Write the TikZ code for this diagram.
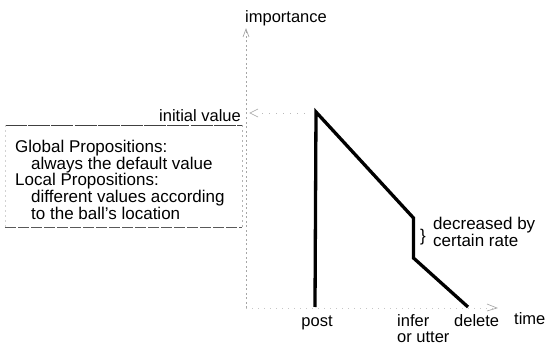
\documentclass[tikz,border=0pt]{standalone}
\usepackage{fontspec}
\setmainfont{Liberation Sans}
\usetikzlibrary{arrows.meta}
\begin{document}
\begin{tikzpicture}[x=1pt,y=-1pt,
  axis/.style={gray!70, line width=0.6pt, dash pattern=on 2pt off 2.5pt},
  faintaxis/.style={gray!45, line width=0.5pt, dash pattern=on 1pt off 5pt},
  tip/.style={gray!75, line width=0.6pt},
  curve/.style={line width=3.3pt, line join=miter, line cap=butt},
  lbl/.style={font=\fontsize{16.5}{17}\selectfont, inner sep=0pt},
  boxtxt/.style={font=\fontsize{17}{16.7}\selectfont, inner sep=0pt, align=left},
  frametop/.style={black!75, line width=0.7pt, dash pattern=on 22pt off 1.2pt},
  framebot/.style={black!65, line width=0.7pt, dash pattern=on 11pt off 2pt},
  frameside/.style={gray!60, line width=0.5pt, dash pattern=on 2pt off 3pt}
]
\useasboundingbox (0,0) rectangle (547,345);

% axes
\coordinate (O) at (246,308);
\coordinate (ytop) at (246,29);
\coordinate (xend) at (497,308);
\draw[axis] (O) -- (ytop);
\draw[faintaxis] (O) -- (xend);
\draw[tip] (243,37) -- (ytop) -- (249,37);
\draw[tip] (487,304) -- (xend) -- (487,311);

% initial value marker and guide
\coordinate (iv) at (250,113);
\draw[tip] (258,109) -- (iv) -- (258,117);
\coordinate (ivend) at (310,113);
\draw[gray!55, line width=0.5pt, dash pattern=on 1pt off 6pt] (262,113) -- (ivend);

% importance curve
\coordinate (post) at (315,307);
\coordinate (peak) at (316,112);
\coordinate (drop1) at (413.5,218);
\coordinate (drop2) at (413.5,258);
\coordinate (del) at (468,307);
\draw[curve] (post) -- (peak) -- (drop1) -- (drop2) -- (del);

% legend frame
\coordinate (fa) at (5,125);
\coordinate (fb) at (242,125);
\coordinate (fc) at (242,227);
\coordinate (fd) at (5,227);
\draw[frametop] (fa) -- (fb);
\draw[framebot] (fd) -- (fc);
\draw[frameside] (fb) -- (fc);
\draw[frameside, gray!35] (fa) -- (fd);

% labels
\node[lbl, anchor=base west] (imp) at (245,23) {importance};
\node[lbl, anchor=base east] (init) at (241,122) {initial value};
\node[boxtxt, anchor=north west] (props) at (15,140)
  {Global Propositions:\\\hspace*{16pt}always the default value\\Local Propositions:\\\hspace*{16pt}different values according\\\hspace*{16pt}to the ball's location};
\node[lbl, anchor=base] (postlbl) at (317,326) {post};
\node[lbl, anchor=base west] (infer) at (397,326) {infer};
\node[lbl, anchor=base west] (utter) at (397,342) {or utter};
\node[lbl, anchor=base west] (delete) at (454,326) {delete};
\node[lbl, anchor=base west] (time) at (514,324) {time};
\node[lbl, font=\fontsize{17}{17}\selectfont] (brace) at (423,237) {\}};
\node[lbl, font=\fontsize{17}{17}\selectfont, anchor=base west] (dec1) at (433,229) {decreased by};
\node[lbl, font=\fontsize{17}{17}\selectfont, anchor=base west] (dec2) at (433,246) {certain rate};
\end{tikzpicture}
\end{document}
